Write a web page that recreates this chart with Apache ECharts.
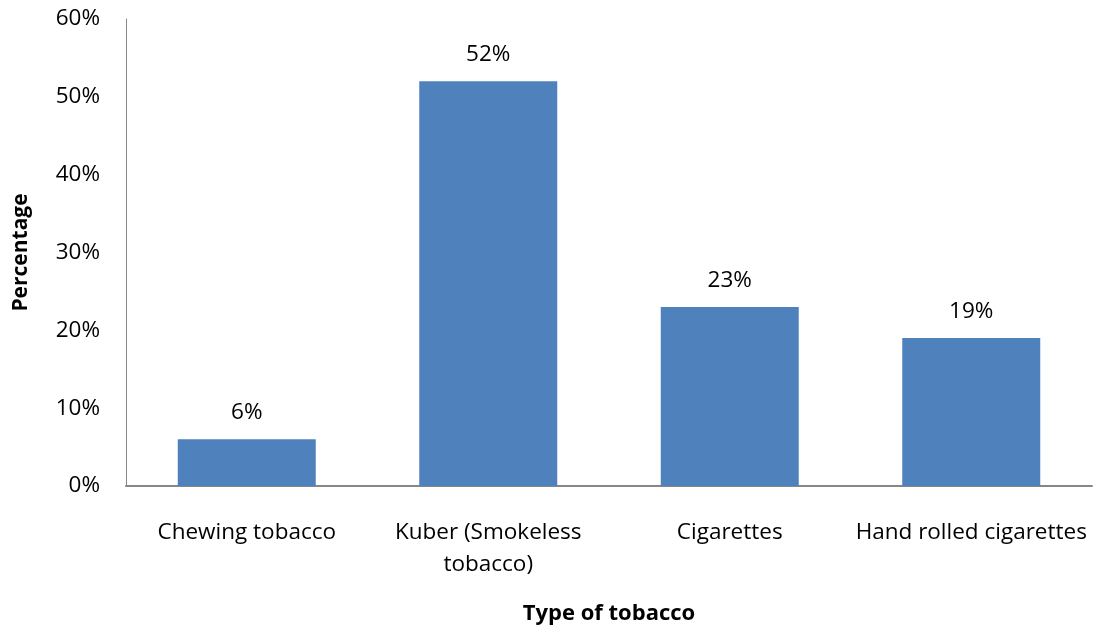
<!DOCTYPE html>
<html><head><meta charset="utf-8">
<script src="https://cdn.jsdelivr.net/npm/echarts@6/dist/echarts.min.js"></script>
<style>html,body{margin:0;padding:0;background:#fff}#c{width:1097px;height:628px}</style>
</head><body><div id="c"></div>
<script>
const categories = ["Chewing tobacco", "Kuber (Smokeless\ntobacco)", "Cigarettes", "Hand rolled cigarettes"];
const values = [6, 52, 23, 19];
const yTicks = [0, 10, 20, 30, 40, 50, 60];
const FONT = "'Open Sans', sans-serif";
const chart = echarts.init(document.getElementById('c'));
chart.setOption({
  animation: false,
  grid: { left: 126, top: 19, right: 5, bottom: 142, containLabel: false, outerBoundsMode: 'none' },
  xAxis: {
    type: 'category', data: categories,
    axisLine: { lineStyle: { color: '#868686', width: 2 } },
    axisTick: { show: false },
    axisLabel: { color: '#000', fontFamily: FONT, fontSize: 22.5, margin: 31, lineHeight: 32, interval: 0 },
    name: 'Type of tobacco', nameLocation: 'middle', nameGap: 117,
    nameTextStyle: { color: '#000', fontFamily: FONT, fontSize: 22, fontWeight: 'bold' }
  },
  yAxis: {
    type: 'value', min: 0, max: 60, interval: 10,
    axisLine: { show: true, lineStyle: { color: '#868686', width: 1 } },
    axisTick: { show: false },
    splitLine: { show: false },
    axisLabel: { color: '#000', fontFamily: FONT, fontSize: 22.5, margin: 26, formatter: v => yTicks.includes(v) ? v + '%' : '' },
    name: 'Percentage', nameLocation: 'middle', nameGap: 94, nameRotate: 90,
    nameTextStyle: { color: '#000', fontFamily: FONT, fontSize: 21, fontWeight: 'bold' }
  },
  series: [{
    type: 'bar', data: values, barWidth: 138,
    itemStyle: { color: '#4f81bd' },
    label: { show: true, position: 'top', distance: 15, formatter: p => p.value + '%', color: '#000', fontFamily: FONT, fontSize: 22.5 }
  }]
});
</script></body></html>
